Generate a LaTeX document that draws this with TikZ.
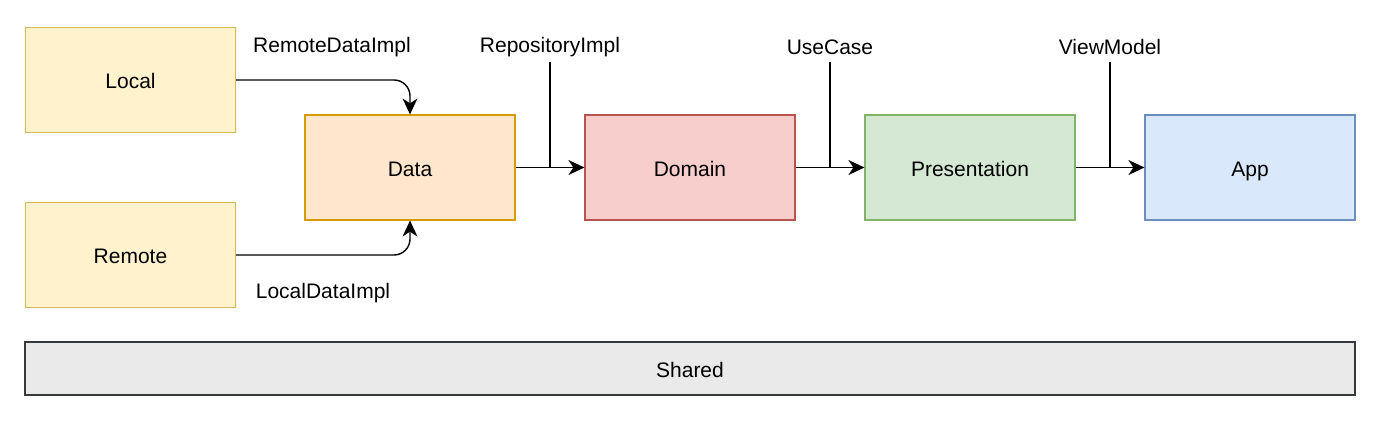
\documentclass[tikz,border=0pt]{standalone}
\usepackage{fontspec}
\setmainfont{Liberation Sans}
\usetikzlibrary{arrows.meta}
\definecolor{yelF}{HTML}{FFF2CC}\definecolor{yelD}{HTML}{D6B656}
\definecolor{orgF}{HTML}{FFE6CC}\definecolor{orgD}{HTML}{D79B00}
\definecolor{redF}{HTML}{F8CECC}\definecolor{redD}{HTML}{B85450}
\definecolor{grnF}{HTML}{D5E8D4}\definecolor{grnD}{HTML}{82B366}
\definecolor{bluF}{HTML}{DAE8FC}\definecolor{bluD}{HTML}{6C8EBF}
\definecolor{gryF}{HTML}{EAEAEA}\definecolor{gryD}{HTML}{36393D}
\begin{document}
\begin{tikzpicture}[x=0.5pt,y=-0.5pt,
  font=\fontsize{10.5}{12}\selectfont,
  box/.style={draw, line width=0.6pt, minimum width=105pt, minimum height=52.5pt, inner sep=0pt, text height=10pt, text depth=1.2pt},
  lbl/.style={inner sep=0pt, anchor=center},
  conn/.style={line width=0.7pt, -{Stealth[length=8pt,width=7.5pt,inset=2.5pt]}},
  tick/.style={line width=0.7pt}]
\useasboundingbox (0,0) rectangle (1382,422);
\node[box, fill=yelF, draw=yelD] (local) at (130.5,80) {Local};
\node[box, fill=yelF, draw=yelD] (remote) at (130.5,255) {Remote};
\node[box, fill=orgF, draw=orgD] (data) at (410,167.5) {Data};
\node[box, fill=redF, draw=redD] (domain) at (690,167.5) {Domain};
\node[box, fill=grnF, draw=grnD] (pres) at (970,167.5) {Presentation};
\node[box, fill=bluF, draw=bluD] (app) at (1250,167.5) {App};
\node[box, fill=gryF, draw=gryD, minimum width=665pt, minimum height=26.5pt] (shared) at (690,368.5) {Shared};

\node[lbl] (rdi) at (332,47) {RemoteDataImpl};
\node[lbl] (ldi) at (323,293) {LocalDataImpl};
\node[lbl] (repi) at (550,47) {RepositoryImpl};
\node[lbl] (uc) at (830,47) {UseCase};
\node[lbl] (vm) at (1110,47) {ViewModel};

\draw[conn, rounded corners=8pt] (local.east) -| (data.north);
\draw[conn, rounded corners=8pt] (remote.east) -| (data.south);
\draw[conn] (data.east) -- (domain.west);
\draw[conn] (domain.east) -- (pres.west);
\draw[conn] (pres.east) -- (app.west);

\coordinate (t1) at (550,62);
\coordinate (t2) at (830,62);
\coordinate (t3) at (1110,62);
\draw[tick] (t1) -- (t1 |- data.east);
\draw[tick] (t2) -- (t2 |- domain.east);
\draw[tick] (t3) -- (t3 |- pres.east);
\end{tikzpicture}
\end{document}
